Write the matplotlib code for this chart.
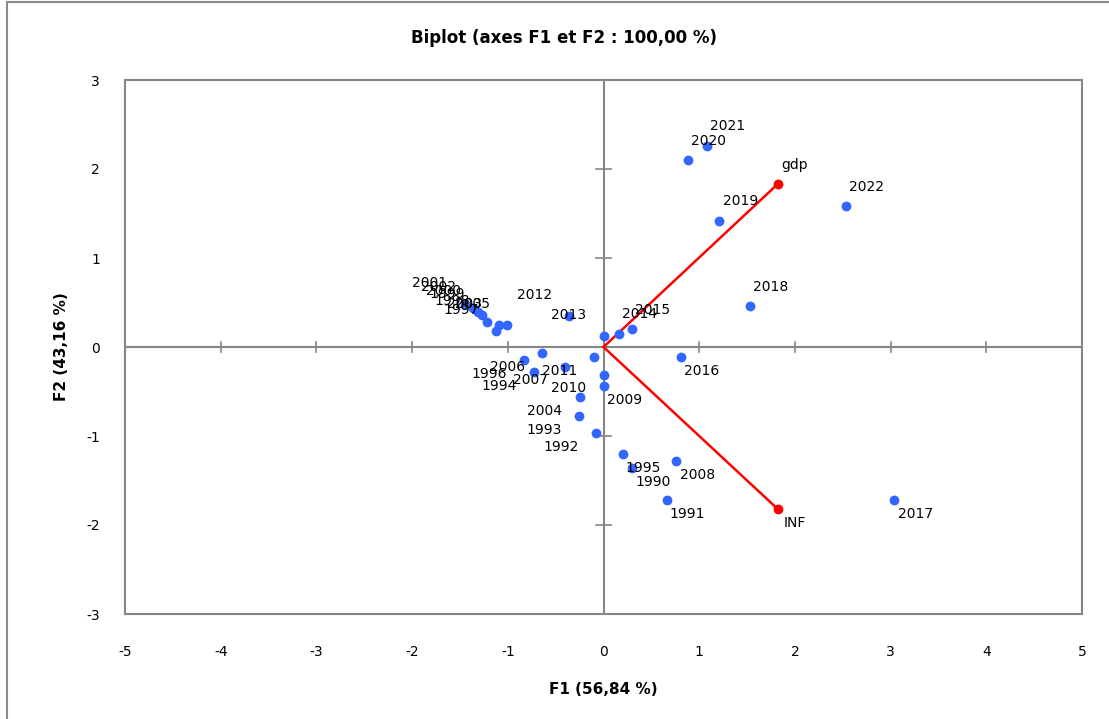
import numpy as np
import matplotlib.pyplot as plt
from matplotlib.patches import Rectangle

plt.rcParams["axes.unicode_minus"] = False

# observations (years) on F1 / F2
years = ["1990", "1991", "1992", "1993", "1994", "1995", "1996", "1997", "1998", "1999",
         "2000", "2001", "2002", "2003", "2004", "2005", "2006", "2007", "2008", "2009",
         "2010", "2011", "2012", "2013", "2014", "2015", "2016", "2017", "2018", "2019",
         "2020", "2021", "2022"]
f1 = [0.30, 0.66, -0.08, -0.26, -0.73, 0.20, -0.83, -1.12, -1.22, -1.27,
      -1.31, -1.45, -1.36, -1.09, -0.25, -1.01, -0.64, -0.40, 0.76, 0.00,
      0.00, -0.10, -0.36, 0.00, 0.16, 0.30, 0.81, 3.04, 1.53, 1.21,
      0.88, 1.08, 2.53]
f2 = [-1.36, -1.72, -0.97, -0.78, -0.28, -1.20, -0.15, 0.18, 0.28, 0.36,
      0.39, 0.48, 0.44, 0.25, -0.56, 0.25, -0.07, -0.22, -1.28, -0.44,
      -0.31, -0.11, 0.35, 0.12, 0.15, 0.20, -0.11, -1.72, 0.46, 1.42,
      2.10, 2.26, 1.58]
# label placement around each point: ur, lr, ul, ll
pos = ["lr", "lr", "ll", "ll", "ll", "lr", "ll", "ul", "ul", "ul",
       "ul", "ul", "ul", "ul", "ll", "ul", "ll", "ll", "lr", "lr",
       "ll", "ll", "ul", "ul", "ur", "ur", "lr", "lr", "ur", "ur",
       "ur", "ur", "ur"]

# variables
var_names = ["gdp", "INF"]
var_f1 = [1.82, 1.82]
var_f2 = [1.83, -1.82]
var_pos = ["ur", "lr"]

offsets = {"ur": (15, 14), "lr": (15, -10), "ul": (-25, 15), "ll": (-25, -10)}

fig = plt.figure(figsize=(11.09, 7.19), dpi=100)
fig.patches.append(Rectangle((7 / 1109, -0.1), 1.2, 1.1 - 2 / 719, transform=fig.transFigure,
                             fill=False, edgecolor="#8c8c8c", linewidth=1.5))
ax = fig.add_axes([125 / 1109, 1 - 614 / 719, 957 / 1109, 534 / 719])

gray = "#868686"
ax.axhline(0, color=gray, linewidth=1.5, zorder=1)
ax.axvline(0, color=gray, linewidth=1.5, zorder=1)
for xt in range(-4, 5):
    ax.plot([xt, xt], [-0.06, 0.06], color=gray, linewidth=1.2, zorder=1)
for yt in range(-2, 3):
    ax.plot([-0.08, 0.08], [yt, yt], color=gray, linewidth=1.2, zorder=1)

ax.scatter(f1, f2, s=50, color="#3366ff", zorder=3, linewidths=0)
for lab, x, y, p in zip(years, f1, f2, pos):
    dx, dy = offsets[p]
    ax.annotate(lab, (x, y), xytext=(dx, dy), textcoords="offset points",
                ha="center", va="center", fontsize=10, zorder=4)

for lab, x, y, p in zip(var_names, var_f1, var_f2, var_pos):
    ax.plot([0, x], [0, y], color="red", linewidth=1.8, zorder=2)
    ax.scatter([x], [y], s=50, color="red", zorder=3, linewidths=0)
    dx, dy = offsets[p]
    ax.annotate(lab, (x, y), xytext=(dx - 3, dy), textcoords="offset points",
                ha="center", va="center", fontsize=10, zorder=4)

ax.set_xlim(-5, 5)
ax.set_ylim(-3, 3)
ax.set_xticks(range(-5, 6))
ax.set_yticks(range(-3, 4))
ax.tick_params(length=0, labelsize=10, pad=22)
ax.tick_params(axis="y", pad=18)
for s in ax.spines.values():
    s.set_color(gray)
    s.set_linewidth(1.5)

fig.text(0.509, 0.947, "Biplot (axes F1 et F2 : 100,00 %)", ha="center", va="center",
         fontsize=12, fontweight="bold")
fig.text(603 / 1109, 1 - 689 / 719, "F1 (56,84 %)", ha="center", va="center",
         fontsize=11, fontweight="bold")
fig.text(62 / 1109, 1 - 347 / 719, "F2 (43,16 %)", ha="center", va="center",
         fontsize=11, fontweight="bold", rotation=90)

fig.savefig("out.png", dpi=100)
